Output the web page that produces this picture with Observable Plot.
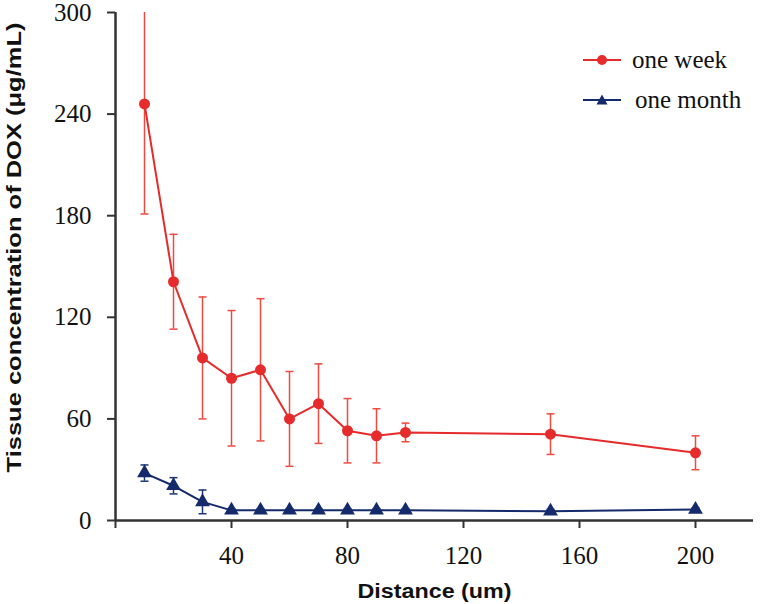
<!DOCTYPE html>
<html>
<head>
<meta charset="utf-8">
<script src="https://cdn.jsdelivr.net/npm/d3@7"></script>
<script src="https://cdn.jsdelivr.net/npm/@observablehq/plot@0.6"></script>
<style>
  html, body { margin: 0; padding: 0; background: #fff; }
  #wrap { position: relative; width: 760px; height: 604px; }
  #legend { position: absolute; left: 582px; top: 40px; font-family: "Liberation Serif", serif; font-size: 25px; color: #111; }
  #legend .item { display: flex; align-items: center; height: 40px; }
  #legend svg { margin-right: 10px; }
</style>
</head>
<body>
<div id="wrap"></div>
<script>
const distance = [10, 20, 30, 40, 50, 60, 70, 80, 90, 100, 150, 200];
const weekMean = [246, 141, 96, 84, 89, 60, 69, 53, 50, 52, 51, 40];
const weekSD = [65, 28, 36, 40, 42, 28, 23.5, 19, 16, 5.5, 12, 10];
const monthMean = [28, 20.5, 11, 6, 6, 6, 6, 6, 6, 6, 5.5, 6.5];
const monthSD = [4.8, 4.8, 7, 1, 1, 1, 1, 1, 1, 1, 1, 1];
const seriesNames = ["one week", "one month"];
const seriesColors = ["#e52b2b", "#152a6b"];
const barColors = ["#ee4a40", "#1d3575"];
const yTicks = [0, 60, 120, 180, 240, 300];
const xTicks = [0, 40, 80, 120, 160, 200];
const xLabel = "Distance (um)";
const yLabel = "Tissue concentration of DOX (\u03bcg/mL)";

const week = distance.map((d, i) => ({x: d, y: weekMean[i], sd: weekSD[i]}));
const month = distance.map((d, i) => ({x: d, y: monthMean[i], sd: monthSD[i]}));

const capSymbol = {
  draw(context, size) {
    const w = 4;
    context.moveTo(-w, 0);
    context.lineTo(w, 0);
  }
};

function errorMarks(data, color) {
  return [
    Plot.ruleX(data, {x: "x", y1: d => d.y - d.sd, y2: d => d.y + d.sd, stroke: color, strokeWidth: 1.5, clip: true}),
    Plot.dot(data, {x: "x", y: d => d.y + d.sd, symbol: capSymbol, stroke: color, strokeWidth: 1.5, r: 4, clip: true}),
    Plot.dot(data, {x: "x", y: d => d.y - d.sd, symbol: capSymbol, stroke: color, strokeWidth: 1.5, r: 4, clip: true})
  ];
}

const chart = Plot.plot({
  width: 760,
  height: 604,
  marginLeft: 115,
  marginRight: 7,
  marginTop: 12,
  marginBottom: 84,
  style: {background: "#fff", overflow: "visible"},
  x: {domain: [0, 220]},
  y: {domain: [0, 300]},
  marks: [
    Plot.axisY({ticks: yTicks, tickSize: 8, tickPadding: 16, fontSize: 25, fontFamily: "Liberation Serif, serif", stroke: "#333", strokeWidth: 2, label: null, color: "#111"}),
    Plot.axisX({ticks: xTicks, tickSize: 8, tickPadding: 18, fontSize: 25, fontFamily: "Liberation Serif, serif", stroke: "#333", strokeWidth: 2, label: null, tickFormat: d => d === 0 ? "" : d, color: "#111"}),
    Plot.ruleX([0], {stroke: "#333", strokeWidth: 2.5}),
    Plot.ruleY([0], {stroke: "#333", strokeWidth: 2.5}),
    ...errorMarks(week, barColors[0]),
    ...errorMarks(month, barColors[1]),
    Plot.line(week, {x: "x", y: "y", stroke: seriesColors[0], strokeWidth: 2}),
    Plot.line(month, {x: "x", y: "y", stroke: seriesColors[1], strokeWidth: 2}),
    Plot.dot(week, {x: "x", y: "y", r: 5.5, fill: seriesColors[0], stroke: "none"}),
    Plot.dot(month, {x: "x", y: "y", r: 5.5, symbol: "triangle", fill: seriesColors[1], stroke: "none"}),
    Plot.text([xLabel], {text: d => d, frameAnchor: "bottom", dy: 77, fontSize: 20, fontWeight: "bold", fontFamily: "Liberation Sans, Arial, sans-serif", fill: "#111"}),
    Plot.text([yLabel], {text: d => d, frameAnchor: "left", textAnchor: "middle", dx: -101, dy: -19, rotate: -90, fontSize: 21, fontWeight: "bold", fontFamily: "Liberation Sans, Arial, sans-serif", fill: "#111"})
  ]
});

const wrap = document.getElementById("wrap");
wrap.appendChild(chart);

// stretch the axis titles horizontally, as in the reference
chart.querySelectorAll("text").forEach(t => {
  if (t.textContent === xLabel) { t.setAttribute("textLength", 154); t.setAttribute("lengthAdjust", "spacingAndGlyphs"); }
  if (t.textContent === yLabel) { t.setAttribute("textLength", 450); t.setAttribute("lengthAdjust", "spacingAndGlyphs"); }
});

const legend = document.createElement("div");
legend.id = "legend";
const markerSvg = [
  `<svg width="40" height="14"><line x1="1" x2="39" y1="7" y2="7" stroke="${seriesColors[0]}" stroke-width="2"/><circle cx="20" cy="7" r="5" fill="${seriesColors[0]}"/></svg>`,
  `<svg width="40" height="14"><line x1="1" x2="39" y1="7" y2="7" stroke="${seriesColors[1]}" stroke-width="2"/><path d="M20,1.5L25.5,11.5L14.5,11.5Z" fill="${seriesColors[1]}"/></svg>`
];
seriesNames.forEach((name, i) => {
  const item = document.createElement("div");
  item.className = "item";
  item.innerHTML = markerSvg[i] + `<span style="margin-left:${i === 1 ? 3 : 0}px">${name}</span>`;
  legend.appendChild(item);
});
wrap.appendChild(legend);
</script>
</body>
</html>
